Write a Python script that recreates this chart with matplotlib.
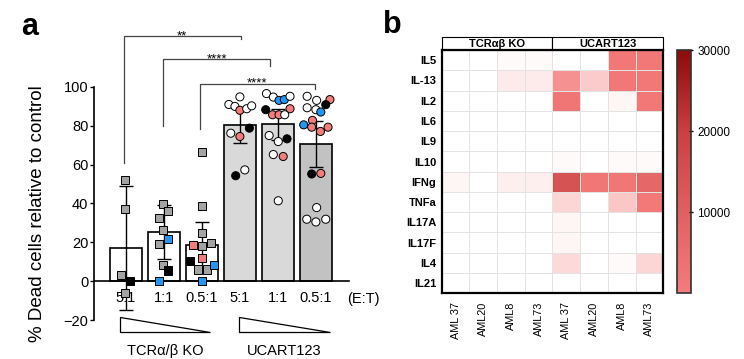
import numpy as np
import matplotlib
matplotlib.use("Agg")
import matplotlib.pyplot as plt
from matplotlib.colors import LinearSegmentedColormap, Normalize
from matplotlib.patches import Rectangle, Polygon
import matplotlib.cm as cm

plt.rcParams['font.family'] = ['Liberation Sans', 'DejaVu Sans']

# -----------------------------
# panel a data
# -----------------------------
ratios = ["5:1", "1:1", "0.5:1", "5:1", "1:1", "0.5:1"]
means = [17, 25.2, 18.6, 80.2, 80.7, 70.7]
sds = [32, 14, 12, 8.8, 8.1, 11.8]
bar_fill = ["white", "white", "white", "#d9d9d9", "#d9d9d9", "#c2c2c2"]
groups = ["TCR\u03b1/\u03b2 KO", "UCART123"]

# individual points: value, x jitter, colour code (g=gray, k=black, b=blue, p=pink, w=white)
ko51_y = [52, 37, 3, -6, 0]
ko51_dx = [-0.03, -0.03, -0.13, -0.03, 0.1]
ko51_c = "ggggk"

ko11_y = [39.7, 32.3, 36.2, 26.4, 19.1, 21.9, 8.1, 5.5, 0.3]
ko11_dx = [-0.03, -0.13, 0.1, -0.03, -0.13, 0.1, -0.03, 0.1, -0.13]
ko11_c = "gggggbgkb"

ko05_y = [66.4, 38.8, 24.8, 18.8, 17.9, 19.7, 12.1, 10.3, 6, 6, 8.1, 0]
ko05_dx = [0, 0, 0, -0.24, 0, 0.24, 0, -0.32, -0.1, 0.13, 0.32, 0]
ko05_c = "gggpggpkggbb"

uc51_y = [94.9, 91, 90, 88, 88.8, 90.3, 76.2, 74.5, 78.8, 57.3, 54.3]
uc51_dx = [0, -0.29, -0.13, 0, 0.18, 0.31, -0.24, 0, 0.25, 0.13, -0.11]
uc51_c = "wwwpwwwpkwk"

uc11_y = [96.6, 94.8, 93.1, 93.5, 95.2, 88.3, 88.8, 85.7, 85.7, 85.7,
          75, 71.9, 73.3, 65.2, 64.2, 41.4]
uc11_dx = [-0.3, -0.12, 0.03, 0.17, 0.32, -0.32, 0.32, -0.14, 0.03, 0.18,
           -0.23, 0.01, 0.24, -0.12, 0.14, 0.01]
uc11_c = "wwbbwkpppwwwkwpw"

uc05_y = [95.2, 93.1, 93.5, 90.9, 89.3, 88.3, 87.1, 82.8, 80.5, 79.3,
          77.1, 79.3, 55.2, 55.5, 37.9, 31.9, 30.5, 31.9]
uc05_dx = [-0.23, 0.02, 0.37, 0.26, -0.23, 0, 0.13, -0.09, -0.32, -0.11,
           0.12, 0.32, -0.11, 0.13, 0.02, -0.24, 0, 0.26]
uc05_c = "wwpkwwbpbpppkpwwww"

# significance brackets: left x, left y, top y, right x, right y, label
brackets = [
    (-0.05, 61, 126.2, 3.02, 124.5, "**"),
    (0.98, 79.7, 114.2, 3.79, 110.9, "****"),
    (1.95, 78.5, 101.7, 4.97, 99.2, "****"),
]

# -----------------------------
# panel b data
# -----------------------------
cytokines = ["IL5", "IL-13", "IL2", "IL6", "IL9", "IL10",
             "IFNg", "TNFa", "IL17A", "IL17F", "IL4", "IL21"]
targets = ["AML 37", "AML20", "AML8", "AML73", "AML 37", "AML20", "AML8", "AML73"]
levels = [
    [20, 20, 150, 150, 40, 40, 3800, 3600],
    [20, 20, 500, 500, 2500, 1200, 3800, 3700],
    [20, 20, 20, 20, 4300, 20, 300, 3700],
    [20, 20, 20, 20, 50, 30, 30, 30],
    [20, 20, 20, 20, 100, 40, 40, 40],
    [20, 20, 20, 20, 120, 60, 120, 120],
    [250, 20, 420, 420, 14000, 4200, 4200, 8000],
    [20, 20, 20, 20, 950, 80, 1400, 3500],
    [20, 20, 20, 20, 250, 30, 30, 30],
    [20, 20, 20, 20, 250, 30, 30, 30],
    [20, 20, 20, 20, 870, 40, 200, 1050],
    [10, 10, 10, 10, 10, 10, 10, 10],
]
cbar_ticks = [10000, 20000, 30000]

palette = {"g": "#a3a3a3", "k": "black", "b": "#2196f3", "p": "#f27d7d", "w": "white"}

fig = plt.figure(figsize=(7.44, 3.59), dpi=100)

# -----------------------------
# panel a
# -----------------------------
ax = fig.add_axes([0.1263, 0.1086, 0.3427, 0.8114])
x = np.arange(len(ratios))
ax.bar(x, means, width=0.84, color=bar_fill, edgecolor="black", linewidth=1.2, zorder=1)
ax.errorbar(x, means, yerr=sds, fmt="none", ecolor="black", elinewidth=1,
            capsize=5, capthick=1, zorder=2)

point_sets = [(ko51_y, ko51_dx, ko51_c, "s"), (ko11_y, ko11_dx, ko11_c, "s"),
              (ko05_y, ko05_dx, ko05_c, "s"), (uc51_y, uc51_dx, uc51_c, "o"),
              (uc11_y, uc11_dx, uc11_c, "o"), (uc05_y, uc05_dx, uc05_c, "o")]
for i, (ys, dxs, cs, mk) in enumerate(point_sets):
    ax.scatter(i + np.array(dxs), ys, c=[palette[c] for c in cs], marker=mk,
               s=34, edgecolors="black", linewidths=0.7, zorder=3, clip_on=False)

for lx, ly, ty, rx, ry, lab in brackets:
    ax.plot([lx, lx, rx, rx], [ly, ty, ty, ry], color="#444444", lw=0.9, clip_on=False)
    ax.text((lx + rx) / 2, ty - 1.6, lab, ha="center", va="baseline", fontsize=9.5)

ax.set_xlim(-0.84, 5.87)
ax.set_ylim(-20, 130)
ax.set_yticks([-20, 0, 20, 40, 60, 80, 100])
ax.spines["left"].set_bounds(-20, 100)
ax.spines["bottom"].set_position(("data", 0))
for s in ["top", "right"]:
    ax.spines[s].set_visible(False)
for s in ["left", "bottom"]:
    ax.spines[s].set_linewidth(1.2)
ax.set_xticks(x)
ax.set_xticklabels(ratios)
ax.tick_params(axis="x", length=0, pad=7, labelsize=10.5)
ax.tick_params(axis="y", length=3, width=1, pad=1, labelsize=10.5)
ax.text(6.24, -9.3, "(E:T)", ha="center", va="center", fontsize=10.5)

# dilution wedges and group labels
for x0, x1, lab in [(-0.16, 2.21, groups[0]), (2.97, 5.37, groups[1])]:
    ax.add_patch(Polygon([(x0, -18.5), (x0, -26.3), (x1, -26.3)], closed=True,
                         facecolor="white", edgecolor="black", lw=0.9, clip_on=False))
    ax.text((x0 + x1) / 2, -35.7, lab, ha="center", va="center", fontsize=10.5)

fig.text(0.051, 0.405, "% Dead cells relative to control", rotation=90,
         ha="center", va="center", fontsize=13.5)
fig.text(21 / 744, 1 - 35 / 359, "a", fontsize=22, fontweight="bold", va="baseline")

# -----------------------------
# panel b
# -----------------------------
cell_cmap = LinearSegmentedColormap.from_list(
    "cells", [(0, "white"), (0.1, "#f47a7a"), (1 / 3, "#e06060"),
              (2 / 3, "#c84040"), (1, "#8b0a0a")])
bar_cmap = LinearSegmentedColormap.from_list(
    "bar", [(0, "#f47c7c"), (1 / 3, "#e06060"), (2 / 3, "#c84040"), (1, "#8b0a0a")])
norm = Normalize(0, 30000)

hx = fig.add_axes([0.5937, 0.183, 0.2978, 0.6777])
hx.pcolormesh(np.array(levels), cmap=cell_cmap, norm=norm,
              edgecolors="#e3e3e3", linewidth=0.5)
hx.set_xlim(0, 8)
hx.set_ylim(12, 0)
hx.set_yticks(np.arange(12) + 0.5)
hx.set_yticklabels(cytokines, fontsize=8, fontweight="bold")
hx.set_xticks(np.arange(8) + 0.5)
hx.set_xticklabels(targets, rotation=90, fontsize=7.8)
hx.tick_params(length=0, pad=4)
hx.tick_params(axis="x", pad=6)
for s in hx.spines.values():
    s.set_linewidth(1.6)

for x0, lab in [(0, "TCR\u03b1\u03b2 KO"), (4, "UCART123")]:
    hx.add_patch(Rectangle((x0, -0.625), 4, 0.625, facecolor="white",
                           edgecolor="black", lw=0.8, clip_on=False))
    hx.text(x0 + 2, -0.3, lab, ha="center", va="center", fontsize=8, fontweight="bold")

cax = fig.add_axes([0.9104, 0.183, 0.0184, 0.6777])
cb = fig.colorbar(cm.ScalarMappable(norm=norm, cmap=bar_cmap), cax=cax, ticks=cbar_ticks)
cb.outline.set_linewidth(1.2)
cb.outline.set_edgecolor("#333333")
cax.tick_params(length=3, width=1, direction="inout", labelsize=8.5, pad=3)

fig.text(383 / 744, 1 - 33 / 359, "b", fontsize=22, fontweight="bold", va="baseline")

plt.savefig("out.png", dpi=100)
